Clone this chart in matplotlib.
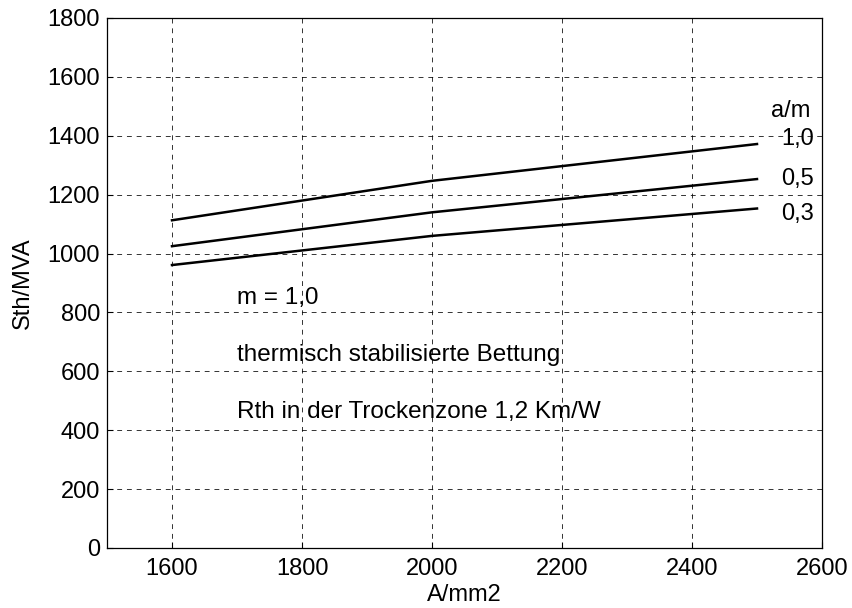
import matplotlib
matplotlib.use("Agg")
import matplotlib.pyplot as plt

plt.rcParams['font.family'] = ['Liberation Sans', 'DejaVu Sans']

x_vals = [1600, 2000, 2500]
s_10 = [1113, 1247, 1372]
s_05 = [1025, 1140, 1253]
s_03 = [961, 1060, 1153]
series = [("1,0", s_10), ("0,5", s_05), ("0,3", s_03)]
label_y = [1388, 1253, 1135]
xticks = [1600, 1800, 2000, 2200, 2400, 2600]
yticks = [0, 200, 400, 600, 800, 1000, 1200, 1400, 1600, 1800]
notes = ["m = 1,0", "thermisch stabilisierte Bettung", "Rth in der Trockenzone 1,2 Km/W"]
note_y = [849, 655, 462]

FS = 17

fig = plt.figure(figsize=(8.52, 6.08), dpi=100)
ax = fig.add_axes([107/852, 1-548/608, (822-107)/852, (548-18)/608])

for (lab, ys), ly in zip(series, label_y):
    ax.plot(x_vals, ys, color='black', lw=1.8)
    ax.text(2537, ly, lab, fontsize=FS, ha='left', va='center')
ax.text(2522, 1485, "a/m", fontsize=FS, ha='left', va='center')

for t, ny in zip(notes, note_y):
    ax.text(1700, ny, t, fontsize=17.5, ha='left', va='center')

ax.set_xlim(1500, 2600)
ax.set_ylim(0, 1800)
ax.set_xticks(xticks)
ax.set_yticks(yticks)
ax.tick_params(direction='in', length=4, labelsize=FS, width=0.8, pad=5)
ax.tick_params(axis='x', pad=7)
ax.grid(True, color='black', linestyle=(0, (5, 5)), linewidth=0.7, alpha=0.8)
for sp in ax.spines.values():
    sp.set_linewidth(0.9)
ax.set_xlabel("A/mm2", fontsize=FS, labelpad=3)
ax.set_ylabel("Sth/MVA", fontsize=FS, labelpad=10)

fig.savefig("out.png", dpi=100)
